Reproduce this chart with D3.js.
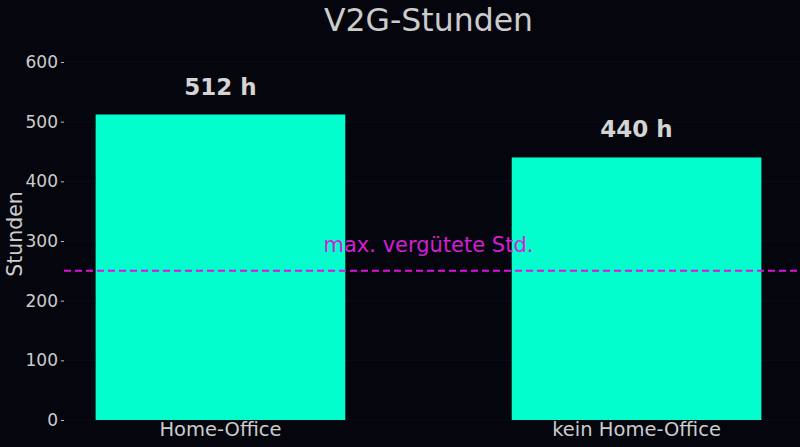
<!DOCTYPE html>
<html>
<head>
<meta charset="utf-8">
<script src="https://cdn.jsdelivr.net/npm/d3@7"></script>
<style>
  html, body { margin: 0; padding: 0; background: #05060d; }
  svg { display: block; font-family: "DejaVu Sans", sans-serif; }
</style>
</head>
<body>
<div id="chart"></div>
<script>
const categories = ['Home-Office', 'kein Home-Office'];
const hours = [512, 440];
const valueLabels = ['512 h', '440 h'];
const yTicks = [0, 100, 200, 300, 400, 500, 600];
const thresholdValue = 250;
const thresholdLabel = 'max. vergütete Std.';

const width = 800;
const height = 447;
const margin = { top: 62, right: 7, bottom: 27, left: 64 };

const svg = d3.select('#chart')
    .append('svg')
    .attr('width', width)
    .attr('height', height);

svg.append('rect')
    .attr('width', width)
    .attr('height', height)
    .attr('fill', '#05060d');

const x = d3.scaleBand()
    .domain(categories)
    .range([margin.left, width - margin.right])
    .paddingInner(0.4)
    .paddingOuter(0.076);

const y = d3.scaleLinear()
    .domain([0, 600])
    .range([height - margin.bottom, margin.top]);

// faint grid
svg.append('g')
    .selectAll('line')
    .data(yTicks)
    .enter()
    .append('line')
    .attr('x1', margin.left)
    .attr('x2', width)
    .attr('y1', d => y(d))
    .attr('y2', d => y(d))
    .attr('stroke', '#0d0e1c')
    .attr('stroke-width', 0.8);

// bars
svg.append('g')
    .selectAll('rect')
    .data(hours)
    .enter()
    .append('rect')
    .attr('x', (d, i) => x(categories[i]))
    .attr('y', d => y(d))
    .attr('width', x.bandwidth())
    .attr('height', d => y(0) - y(d))
    .attr('fill', '#00ffcc');

// value labels
svg.append('g')
    .selectAll('text')
    .data(hours)
    .enter()
    .append('text')
    .attr('x', (d, i) => x(categories[i]) + x.bandwidth() / 2)
    .attr('y', d => y(d) - 20)
    .attr('text-anchor', 'middle')
    .attr('font-size', '23px')
    .attr('font-weight', 'bold')
    .attr('fill', '#d4d4d4')
    .text((d, i) => valueLabels[i]);

// threshold line
svg.append('line')
    .attr('x1', margin.left)
    .attr('x2', width)
    .attr('y1', y(thresholdValue))
    .attr('y2', y(thresholdValue))
    .attr('stroke', '#e010e0')
    .attr('stroke-width', 2)
    .attr('stroke-dasharray', '7,4');

svg.append('text')
    .attr('x', (margin.left + width - margin.right) / 2)
    .attr('y', y(thresholdValue) - 19)
    .attr('text-anchor', 'middle')
    .attr('font-size', '21px')
    .attr('fill', '#d41ed4')
    .text(thresholdLabel);

// y axis
const yAxis = svg.append('g')
    .attr('transform', `translate(${margin.left},0)`)
    .call(d3.axisLeft(y).tickValues(yTicks).tickSize(3).tickPadding(3));
yAxis.select('.domain').remove();
yAxis.selectAll('line').attr('stroke', '#bbbbbb');
yAxis.selectAll('text')
    .attr('fill', '#cccccc')
    .attr('font-size', '17px')
    .attr('font-family', '"DejaVu Sans", sans-serif');

// x axis
const xAxis = svg.append('g')
    .attr('transform', `translate(0,${y(0)})`)
    .call(d3.axisBottom(x).tickSize(0).tickPadding(2));
xAxis.select('.domain').remove();
xAxis.selectAll('text')
    .attr('fill', '#cccccc')
    .attr('font-size', '19.5px')
    .attr('font-family', '"DejaVu Sans", sans-serif');

// y label
svg.append('text')
    .attr('transform', `translate(22,${(margin.top + height - margin.bottom) / 2 - 7}) rotate(-90)`)
    .attr('text-anchor', 'middle')
    .attr('font-size', '20.5px')
    .attr('fill', '#cccccc')
    .text('Stunden');

// title
svg.append('text')
    .attr('x', (margin.left + width - margin.right) / 2)
    .attr('y', 31)
    .attr('text-anchor', 'middle')
    .attr('font-size', '31.5px')
    .attr('fill', '#cccccc')
    .text('V2G-Stunden');
</script>
</body>
</html>
